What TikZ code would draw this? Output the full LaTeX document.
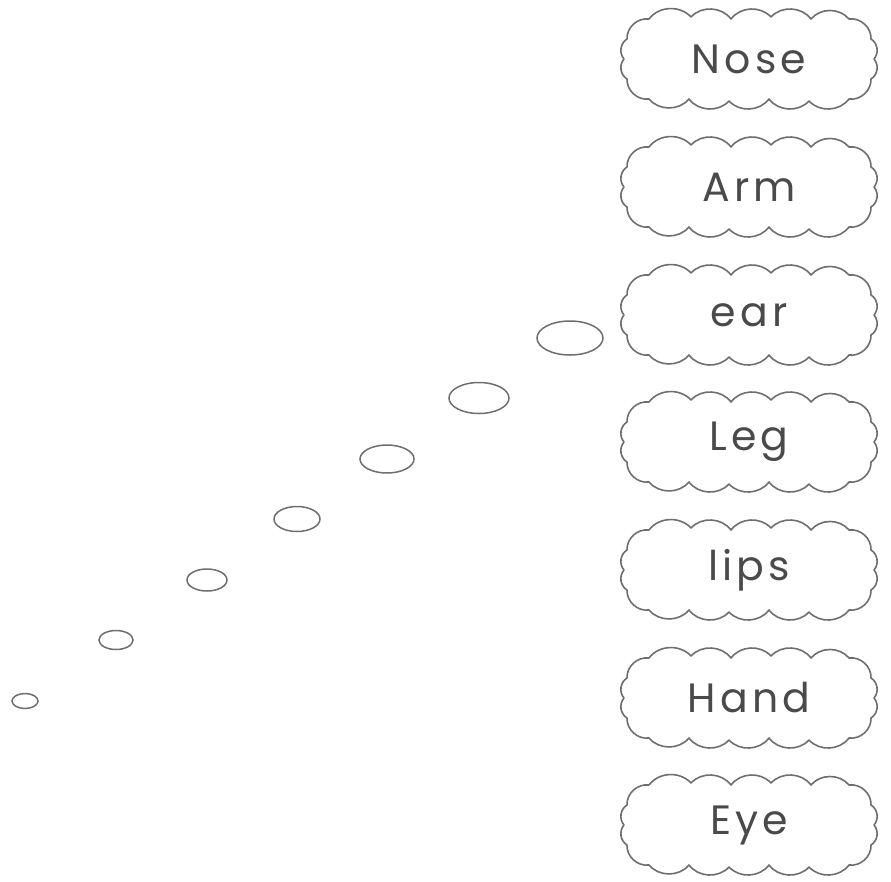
\documentclass[tikz,border=0pt]{standalone}
\usepackage{fontspec}
\setmainfont{Poppins}[LetterSpace=10]
\usetikzlibrary{shapes.geometric}
\definecolor{ink}{HTML}{6E6E6E}
\definecolor{txt}{HTML}{4A4A4A}
\tikzset{
  cloudbox/.style={draw=none, minimum width=236pt, minimum height=84pt, text=txt,
    font=\fontsize{41}{44}\selectfont},
  cloudline/.style={draw=ink, line width=1.6pt, line join=round},
  dot/.style={draw=ink, line width=1.5pt, ellipse, inner sep=0pt}
}
\newcommand\cloudround[1]{%
  \draw[cloudline, shift={(#1.center)}]
    (-100,-40) to[bend left=50] (-58,-42) to[bend left=50] (-18,-40)
    to[bend left=50] (22,-42) to[bend left=50] (62,-40) to[bend left=50] (100,-40)
    to[bend left=50] (122,-20) to[bend left=50] (125,0) to[bend left=50] (122,20)
    to[bend left=50] (100,40) to[bend left=50] (60,42) to[bend left=50] (20,40)
    to[bend left=50] (-20,42) to[bend left=50] (-60,40) to[bend left=50] (-100,40)
    to[bend left=50] (-122,20) to[bend left=50] (-125,0) to[bend left=50] (-122,-20)
    to[bend left=50] (-100,-40);}
\begin{document}
\begin{tikzpicture}[x=1pt,y=-1pt]
\useasboundingbox (0,0) rectangle (891,881);
\node[cloudbox] (nose) at (749,59) {Nose};
\node[cloudbox] (arm) at (749,187) {Arm};
\node[cloudbox] (ear) at (749,315) {ear};
\node[cloudbox] (leg) at (749,442) {Leg};
\node[cloudbox] (lips) at (749,570) {lips};
\node[cloudbox] (hand) at (749,698) {Hand};
\node[cloudbox] (eye) at (749,825) {Eye};
\foreach \n in {nose,arm,ear,leg,lips,hand,eye} {\cloudround{\n}}
\node[dot, minimum width=66pt, minimum height=34pt] (c1) at (570,338) {};
\node[dot, minimum width=60pt, minimum height=31pt] (c2) at (479,398) {};
\node[dot, minimum width=54pt, minimum height=28pt] (c3) at (387,459) {};
\node[dot, minimum width=46pt, minimum height=25pt] (c4) at (297,519) {};
\node[dot, minimum width=40pt, minimum height=22pt] (c5) at (207,580) {};
\node[dot, minimum width=34pt, minimum height=19pt] (c6) at (116,640) {};
\node[dot, minimum width=26pt, minimum height=15pt] (c7) at (25,701) {};
\end{tikzpicture}
\end{document}
